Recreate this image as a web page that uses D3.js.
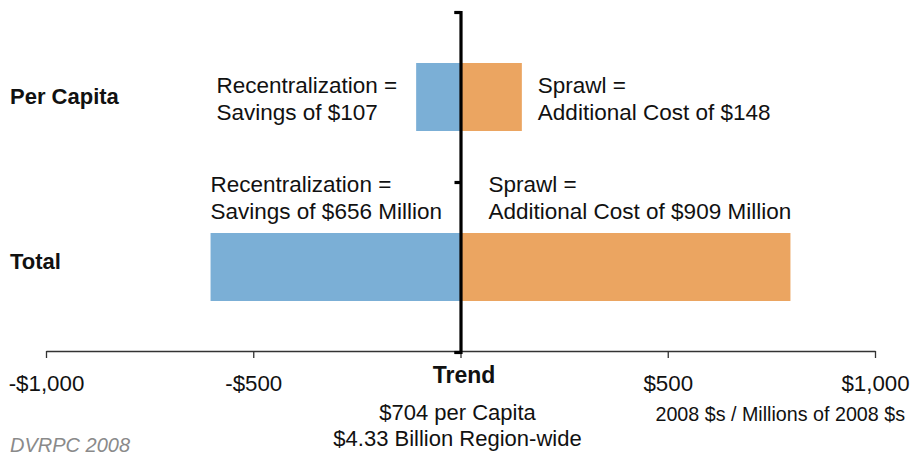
<!DOCTYPE html>
<html>
<head>
<meta charset="utf-8">
<script src="https://cdn.jsdelivr.net/npm/d3@7"></script>
<style>
  html, body { margin: 0; padding: 0; background: #fff; }
  svg text { font-family: "Liberation Sans", Arial, Helvetica, sans-serif; fill: #111; }
</style>
</head>
<body>
<svg id="chart" width="911" height="456"></svg>
<script>
// ---- data ----
const categories = ["Per Capita", "Total"];
const recentralization = [-107, -603];
const sprawl = [148, 796];
const leftLabels = [
  ["Recentralization =", "Savings of $107"],
  ["Recentralization =", "Savings of $656 Million"]
];
const rightLabels = [
  ["Sprawl =", "Additional Cost of $148"],
  ["Sprawl =", "Additional Cost of $909 Million"]
];
const xTicks = [-1000, -500, 0, 500, 1000];
const xTickLabels = ["-$1,000", "-$500", "Trend", "$500", "$1,000"];
const trendNotes = ["$704 per Capita", "$4.33 Billion Region-wide"];
const unitsNote = "2008 $s / Millions of 2008 $s";
const sourceNote = "DVRPC 2008";

// ---- layout ----
const svg = d3.select("#chart");
const x = d3.scaleLinear().domain([-1000, 1000]).range([46, 875]);
const y = d3.scaleBand().domain(categories).range([12, 352]).paddingInner(0.6).paddingOuter(0.3);
const axisY = 351;
const blue = "#7bafd6", orange = "#eba561";

// bars
svg.append("g").selectAll("rect").data(categories).join("rect")
  .attr("x", (d, i) => x(recentralization[i]))
  .attr("width", (d, i) => x(0) - x(recentralization[i]))
  .attr("y", d => y(d)).attr("height", y.bandwidth())
  .attr("fill", blue);
svg.append("g").selectAll("rect").data(categories).join("rect")
  .attr("x", x(0))
  .attr("width", (d, i) => x(sprawl[i]) - x(0))
  .attr("y", d => y(d)).attr("height", y.bandwidth())
  .attr("fill", orange);

// x axis
const xAxis = d3.axisBottom(x).tickValues(xTicks).tickSize(7).tickSizeOuter(0)
  .tickFormat((d, i) => xTickLabels[i]);
const gx = svg.append("g").attr("transform", `translate(0,${axisY})`).call(xAxis);
gx.select(".domain").attr("stroke", "#333").attr("stroke-width", 1.3);
gx.selectAll(".tick line").attr("stroke", "#333").attr("stroke-width", 1.3);
gx.selectAll(".tick text")
  .attr("fill", "#111").attr("font-size", 22.3)
  .attr("font-family", "'Liberation Sans', Arial, sans-serif")
  .attr("y", 40).attr("dy", 0)
  .each(function(d) {
    if (d === 0) d3.select(this).attr("font-weight", "bold").attr("font-size", 23).attr("y", 32).attr("dx", 3);
  });

// vertical (category) axis at zero
const yb = d3.scaleLinear().domain([0, categories.length]).range(y.range());
const yAxis = d3.axisLeft(yb).tickValues(d3.range(categories.length + 1)).tickSize(6).tickSizeOuter(6).tickFormat("");
const gy = svg.append("g").attr("transform", `translate(${x(0)},0)`).call(yAxis);
gy.select(".domain").attr("stroke", "#000").attr("stroke-width", 3.2);
gy.selectAll(".tick line").attr("stroke", "#000").attr("stroke-width", 3.2);

// category labels
svg.append("g").selectAll("text").data(categories).join("text")
  .attr("x", 10)
  .attr("y", (d, i) => y(d) + y.bandwidth() / 2 + 7 - i * 5)
  .attr("font-size", 22).attr("font-weight", "bold")
  .text(d => d);

// bar annotations
const fs = 22.5, lh = 26.5;
categories.forEach((c, i) => {
  const top = y(c);
  let lx, rx, alignEnd, base;
  if (i === 0) {
    lx = x(recentralization[i]) - 19; alignEnd = true;
    rx = x(sprawl[i]) + 16;
    base = top + y.bandwidth() / 2 - 4;
  } else {
    lx = x(recentralization[i]); alignEnd = false;
    rx = x(0) + 28;
    base = top - 41;
  }
  const gL = svg.append("g");
  leftLabels[i].forEach((t, k) => {
    gL.append("text").attr("font-size", fs).attr("y", base + k * lh).text(t);
  });
  const w = gL.node().getBBox().width;
  gL.attr("transform", `translate(${alignEnd ? lx - w : lx},0)`);
  const gR = svg.append("g").attr("transform", `translate(${rx},0)`);
  rightLabels[i].forEach((t, k) => {
    gR.append("text").attr("font-size", fs).attr("y", base + k * lh).text(t);
  });
});

// trend notes under zero
svg.append("g").selectAll("text").data(trendNotes).join("text")
  .attr("x", x(0) - 3).attr("y", (d, i) => 420 + i * 26)
  .attr("text-anchor", "middle").attr("font-size", 22)
  .text(d => d);

// units note
svg.append("text").attr("x", 905).attr("y", 421).attr("text-anchor", "end")
  .attr("font-size", 19.7).text(unitsNote);

// source
svg.append("text").attr("x", 10).attr("y", 452)
  .attr("font-size", 20).attr("font-style", "italic")
  .style("fill", "#8a8a8a").text(sourceNote);
</script>
</body>
</html>
